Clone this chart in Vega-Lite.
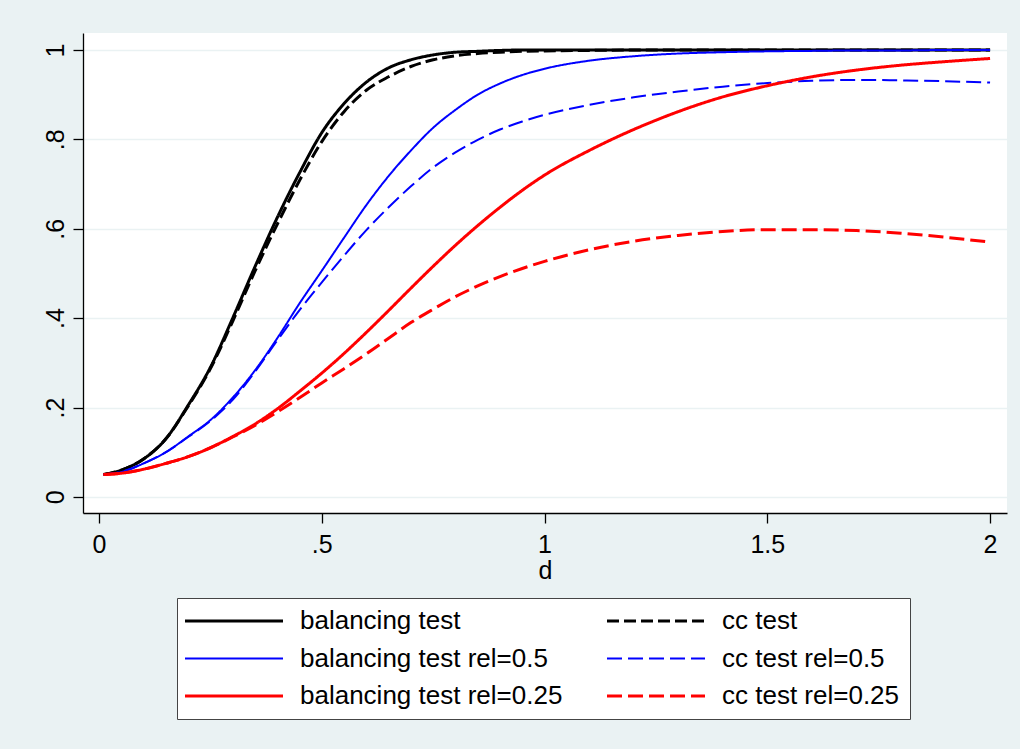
{
  "$schema": "https://vega.github.io/schema/vega-lite/v6.json",
  "width": 924,
  "height": 480,
  "autosize": {"type": "none"},
  "padding": {"left": 83, "top": 33, "right": 13, "bottom": 236},
  "background": "#EAF2F3",
  "config": {
    "view": {"fill": "white", "stroke": null},
    "font": "Liberation Sans",
    "axis": {
      "domainColor": "black", "domainWidth": 1.3,
      "tickColor": "black", "tickWidth": 1.3, "tickSize": 10,
      "labelFont": "Liberation Sans", "labelFontSize": 25, "labelColor": "black",
      "titleFont": "Liberation Sans", "titleFontSize": 25, "titleColor": "black", "titleFontWeight": "normal",
      "gridColor": "#EAF2F3", "gridWidth": 1.6
    }
  },
  "data": {
    "values": [
      {"d": 0.01, "bal": 0.05, "cc": 0.05, "bal05": 0.05, "cc05": 0.05, "bal025": 0.05, "cc025": 0.05},
      {"d": 0.05, "bal": 0.06, "cc": 0.06, "bal05": 0.056, "cc05": 0.056, "bal025": 0.053, "cc025": 0.053},
      {"d": 0.1, "bal": 0.085, "cc": 0.085, "bal05": 0.075, "cc05": 0.075, "bal025": 0.062, "cc025": 0.062},
      {"d": 0.15, "bal": 0.13, "cc": 0.13, "bal05": 0.1, "cc05": 0.1, "bal025": 0.075, "cc025": 0.075},
      {"d": 0.2, "bal": 0.205, "cc": 0.203, "bal05": 0.135, "cc05": 0.134, "bal025": 0.09, "cc025": 0.09},
      {"d": 0.25, "bal": 0.29, "cc": 0.287, "bal05": 0.172, "cc05": 0.17, "bal025": 0.11, "cc025": 0.11},
      {"d": 0.3, "bal": 0.4, "cc": 0.393, "bal05": 0.222, "cc05": 0.217, "bal025": 0.135, "cc025": 0.134},
      {"d": 0.35, "bal": 0.515, "cc": 0.505, "bal05": 0.283, "cc05": 0.28, "bal025": 0.163, "cc025": 0.16},
      {"d": 0.4, "bal": 0.625, "cc": 0.61, "bal05": 0.355, "cc05": 0.35, "bal025": 0.197, "cc025": 0.19},
      {"d": 0.45, "bal": 0.725, "cc": 0.708, "bal05": 0.433, "cc05": 0.418, "bal025": 0.236, "cc025": 0.222},
      {"d": 0.5, "bal": 0.815, "cc": 0.795, "bal05": 0.506, "cc05": 0.48, "bal025": 0.277, "cc025": 0.255},
      {"d": 0.55, "bal": 0.88, "cc": 0.862, "bal05": 0.58, "cc05": 0.54, "bal025": 0.321, "cc025": 0.287},
      {"d": 0.6, "bal": 0.928, "cc": 0.91, "bal05": 0.653, "cc05": 0.597, "bal025": 0.368, "cc025": 0.32},
      {"d": 0.65, "bal": 0.96, "cc": 0.94, "bal05": 0.718, "cc05": 0.648, "bal025": 0.417, "cc025": 0.355},
      {"d": 0.7, "bal": 0.978, "cc": 0.963, "bal05": 0.775, "cc05": 0.695, "bal025": 0.467, "cc025": 0.39},
      {"d": 0.75, "bal": 0.989, "cc": 0.978, "bal05": 0.826, "cc05": 0.737, "bal025": 0.516, "cc025": 0.42},
      {"d": 0.8, "bal": 0.995, "cc": 0.987, "bal05": 0.866, "cc05": 0.771, "bal025": 0.563, "cc025": 0.448},
      {"d": 0.85, "bal": 0.997, "cc": 0.992, "bal05": 0.9, "cc05": 0.799, "bal025": 0.607, "cc025": 0.472},
      {"d": 0.9, "bal": 0.999, "cc": 0.995, "bal05": 0.925, "cc05": 0.822, "bal025": 0.648, "cc025": 0.493},
      {"d": 0.95, "bal": 1, "cc": 0.997, "bal05": 0.944, "cc05": 0.84, "bal025": 0.686, "cc025": 0.511},
      {"d": 1.0, "bal": 1, "cc": 0.998, "bal05": 0.958, "cc05": 0.855, "bal025": 0.72, "cc025": 0.527},
      {"d": 1.1, "bal": 1, "cc": 0.999, "bal05": 0.976, "cc05": 0.877, "bal025": 0.775, "cc025": 0.553},
      {"d": 1.2, "bal": 1, "cc": 1, "bal05": 0.986, "cc05": 0.894, "bal025": 0.822, "cc025": 0.572},
      {"d": 1.3, "bal": 1, "cc": 1, "bal05": 0.992, "cc05": 0.907, "bal025": 0.862, "cc025": 0.585},
      {"d": 1.4, "bal": 1, "cc": 1, "bal05": 0.995, "cc05": 0.918, "bal025": 0.895, "cc025": 0.594},
      {"d": 1.5, "bal": 1, "cc": 1, "bal05": 0.997, "cc05": 0.926, "bal025": 0.92, "cc025": 0.598},
      {"d": 1.6, "bal": 1, "cc": 1, "bal05": 0.998, "cc05": 0.931, "bal025": 0.94, "cc025": 0.598},
      {"d": 1.7, "bal": 1, "cc": 1, "bal05": 0.999, "cc05": 0.933, "bal025": 0.955, "cc025": 0.596},
      {"d": 1.8, "bal": 1, "cc": 1, "bal05": 0.999, "cc05": 0.932, "bal025": 0.966, "cc025": 0.59},
      {"d": 1.9, "bal": 1, "cc": 1, "bal05": 1, "cc05": 0.93, "bal025": 0.974, "cc025": 0.581},
      {"d": 2.0, "bal": 1, "cc": 1, "bal05": 1, "cc05": 0.927, "bal025": 0.981, "cc025": 0.57}
    ]
  },
  "transform": [
    {"fold": ["bal", "cc", "bal05", "cc05", "bal025", "cc025"], "as": ["series", "power"]}
  ],
  "mark": {"type": "line", "interpolate": "monotone"},
  "encoding": {
    "x": {
      "field": "d", "type": "quantitative",
      "scale": {"domain": [-0.036, 2.038], "nice": false, "zero": false},
      "axis": {
        "values": [0, 0.5, 1, 1.5, 2], "grid": false, "title": "d",
        "labelPadding": 9, "titlePadding": 1,
        "labelExpr": "datum.value == 0.5 ? '.5' : '' + datum.value"
      }
    },
    "y": {
      "field": "power", "type": "quantitative",
      "scale": {"domain": [-0.036, 1.038], "nice": false, "zero": false},
      "axis": {
        "values": [0, 0.2, 0.4, 0.6, 0.8, 1], "grid": true, "title": null,
        "labelAngle": 270, "labelAlign": "center", "labelBaseline": "bottom", "labelPadding": 5,
        "labelExpr": "datum.value == 0 ? '0' : datum.value == 1 ? '1' : replace('' + datum.value, '0.', '.')"
      }
    },
    "color": {
      "field": "series", "type": "nominal",
      "scale": {
        "domain": ["bal", "bal05", "bal025", "cc", "cc05", "cc025"],
        "range": ["#000000", "#0000FF", "#FF0000", "#000000", "#0000FF", "#FF0000"]
      },
      "legend": {
        "title": null, "orient": "none", "legendX": 94, "legendY": 565,
        "columns": 2, "columnPadding": 38, "rowPadding": 11.5, "padding": 10,
        "symbolType": "M-1.5,0H8.3", "symbolSize": 400, "labelOffset": 87,
        "labelFont": "Liberation Sans", "labelFontSize": 26, "labelColor": "black", "labelLimit": 400,
        "fillColor": "white", "strokeColor": "#444444",
        "labelExpr": "datum.label == 'bal' ? 'balancing test' : datum.label == 'cc' ? 'cc test' : datum.label == 'bal05' ? 'balancing test rel=0.5' : datum.label == 'cc05' ? 'cc test rel=0.5' : datum.label == 'bal025' ? 'balancing test rel=0.25' : 'cc test rel=0.25'"
      }
    },
    "strokeDash": {
      "field": "series", "type": "nominal",
      "scale": {
        "domain": ["bal", "bal05", "bal025", "cc", "cc05", "cc025"],
        "range": [[1, 0], [1, 0], [1, 0], [12, 5], [15, 6], [15, 6]]
      }
    },
    "strokeWidth": {
      "field": "series", "type": "ordinal",
      "scale": {
        "type": "ordinal",
        "domain": ["bal", "bal05", "bal025", "cc", "cc05", "cc025"],
        "range": [3, 2, 3, 3, 2, 3]
      }
    }
  }
}
